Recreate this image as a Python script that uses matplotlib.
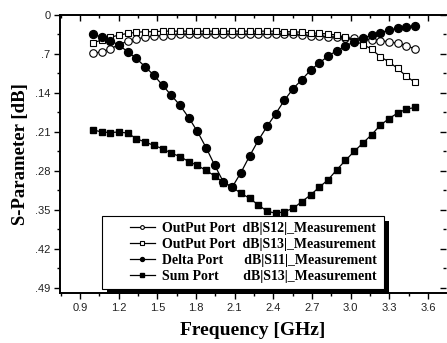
import numpy as np
import matplotlib
matplotlib.use('Agg')
import matplotlib.pyplot as plt
from matplotlib.patches import Rectangle
from matplotlib.ticker import MultipleLocator
from matplotlib.legend_handler import HandlerLine2D

# frequency grid (GHz), 38 samples from 1.0 to 3.5
freq = np.linspace(1.0, 3.5, 38)

s12_out = [-0.069, -0.066, -0.061, -0.053, -0.047, -0.043, -0.040, -0.038, -0.037, -0.036,
           -0.035, -0.035, -0.035, -0.035, -0.035, -0.035, -0.035, -0.035, -0.035, -0.035,
           -0.035, -0.035, -0.035, -0.035, -0.036, -0.037, -0.038, -0.039, -0.040, -0.041,
           -0.042, -0.043, -0.044, -0.046, -0.048, -0.051, -0.055, -0.061]
s13_out = [-0.050, -0.045, -0.040, -0.036, -0.033, -0.031, -0.030, -0.030, -0.029, -0.029,
           -0.029, -0.029, -0.029, -0.029, -0.029, -0.029, -0.029, -0.029, -0.029, -0.029,
           -0.029, -0.029, -0.030, -0.030, -0.031, -0.032, -0.033, -0.034, -0.036, -0.040,
           -0.046, -0.053, -0.061, -0.075, -0.084, -0.096, -0.110, -0.121]
s11_delta = [-0.034, -0.040, -0.046, -0.054, -0.066, -0.078, -0.093, -0.108, -0.126, -0.144,
             -0.162, -0.184, -0.209, -0.238, -0.270, -0.300, -0.309, -0.283, -0.253, -0.225,
             -0.200, -0.177, -0.153, -0.132, -0.116, -0.099, -0.086, -0.074, -0.064, -0.056,
             -0.048, -0.042, -0.036, -0.032, -0.027, -0.024, -0.021, -0.019]
s13_sum = [-0.206, -0.210, -0.211, -0.210, -0.212, -0.222, -0.228, -0.234, -0.240, -0.248,
           -0.254, -0.263, -0.270, -0.279, -0.289, -0.301, -0.309, -0.320, -0.329, -0.341,
           -0.352, -0.356, -0.353, -0.347, -0.335, -0.323, -0.309, -0.296, -0.278, -0.261,
           -0.245, -0.230, -0.215, -0.198, -0.186, -0.176, -0.169, -0.166]

labels = ['OutPut Port  dB|S12|_Measurement',
          'OutPut Port  dB|S13|_Measurement',
          'Delta Port      dB|S11|_Measurement',
          'Sum Port       dB|S13|_Measurement']

xticks = [0.9, 1.2, 1.5, 1.8, 2.1, 2.4, 2.7, 3.0, 3.3, 3.6]
yticks = [0, -0.07, -0.14, -0.21, -0.28, -0.35, -0.42, -0.49]
ytick_labels = ['0', '.7', '.14', '.21', '.28', '.35', '.42', '.49']


class ShiftedLine(HandlerLine2D):
    # leave empty room on the left of each legend handle
    def create_artists(self, legend, orig_handle, xdescent, ydescent, width, height, fontsize, trans):
        pad = width * 0.45
        return super().create_artists(legend, orig_handle, xdescent - pad, ydescent,
                                      width - pad, height, fontsize, trans)


fig = plt.figure(figsize=(4.47, 3.43), dpi=100)
ax = fig.add_axes([60/447, 1-293/343, 386/447, 278/343])

ax.plot(freq, s12_out, '-o', color='black', lw=0.9, ms=5.4, mfc='white', mec='black', mew=0.8, label=labels[0])
ax.plot(freq, s13_out, '-s', color='black', lw=0.9, ms=5.0, mfc='white', mec='black', mew=0.8, label=labels[1])
ax.plot(freq, s11_delta, '-o', color='black', lw=0.9, ms=5.7, mfc='black', mec='black', label=labels[2])
ax.plot(freq, s13_sum, '-s', color='black', lw=0.9, ms=5.0, mfc='black', mec='black', label=labels[3])

ax.set_xlim(0.745, 3.74)
ax.set_ylim(-0.499, 0)
ax.set_xticks(xticks)
ax.set_xticklabels([f'{v:.1f}' for v in xticks])
ax.set_yticks(yticks)
ax.set_yticklabels(ytick_labels)
ax.xaxis.set_minor_locator(MultipleLocator(0.15))
ax.yaxis.set_minor_locator(MultipleLocator(0.035))

ax.spines['right'].set_visible(False)
for s in ['left', 'bottom', 'top']:
    ax.spines[s].set_linewidth(1.4)

ax.tick_params(which='both', direction='out', top=False, right=False, width=1.0)
ax.tick_params(which='major', length=4, labelsize=8, pad=3, labelcolor='#222222')
ax.tick_params(which='minor', length=2.5)
for lab in ax.get_xticklabels() + ax.get_yticklabels():
    lab.set_fontfamily('Liberation Sans')

# inward ticks on top and right
sec_top = ax.secondary_xaxis('top')
sec_top.set_xticks(xticks)
sec_top.xaxis.set_minor_locator(MultipleLocator(0.15))
sec_top.tick_params(which='both', direction='in', labeltop=False, width=1.0)
sec_top.tick_params(which='major', length=4)
sec_top.tick_params(which='minor', length=2.5)
sec_top.spines['top'].set_visible(False)
sec_right = ax.secondary_yaxis('right')
sec_right.set_yticks(yticks)
sec_right.yaxis.set_minor_locator(MultipleLocator(0.035))
sec_right.tick_params(which='both', direction='in', labelright=False, width=1.0)
sec_right.tick_params(which='major', length=4)
sec_right.tick_params(which='minor', length=2.5)
sec_right.spines['right'].set_visible(False)

ax.set_xlabel('Frequency [GHz]', fontfamily='Liberation Serif', fontweight='bold', fontsize=14, labelpad=7)
ax.set_ylabel('S-Parameter [dB]', fontfamily='Liberation Serif', fontweight='bold', fontsize=13.5, labelpad=4)

leg = ax.legend(loc='upper left', bbox_to_anchor=((102-60)/386, (293-216)/278),
                borderaxespad=0, fancybox=False, framealpha=1, edgecolor='black',
                prop={'family': 'Liberation Serif', 'weight': 'bold', 'size': 10},
                handlelength=3.4, markerscale=0.5, labelspacing=0.2, borderpad=0.45,
                handletextpad=0.5, handler_map={matplotlib.lines.Line2D: ShiftedLine()})
leg.get_frame().set_linewidth(0.8)

# heavy drop shadow like the original figure
fig.canvas.draw()
bb = leg.get_window_extent()
shadow = Rectangle((bb.x0 + 5, bb.y0 - 5), bb.width, bb.height, transform=None,
                   facecolor='black', edgecolor='none', zorder=leg.get_zorder() - 0.1, clip_on=False)
ax.add_artist(shadow)

fig.savefig('out.png', dpi=100)
